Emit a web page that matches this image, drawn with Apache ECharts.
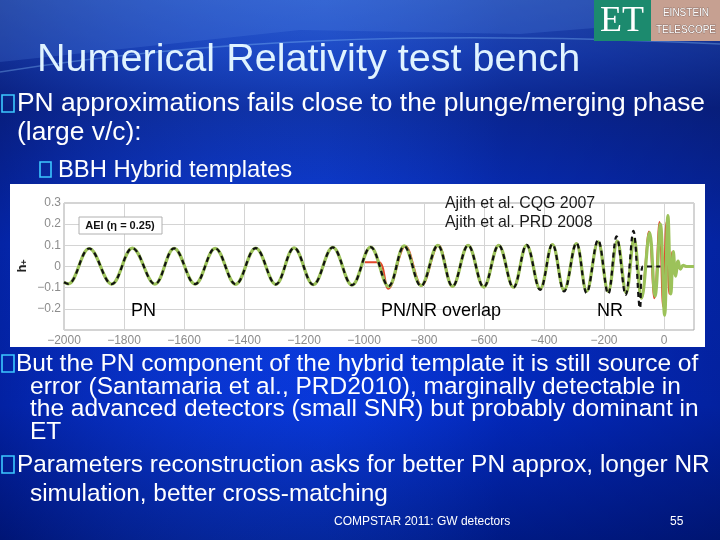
<!DOCTYPE html>
<html><head><meta charset="utf-8">
<script src="https://cdn.jsdelivr.net/npm/echarts@6/dist/echarts.min.js"></script>
<style>html,body{margin:0;padding:0;background:#0a2fc0}#c{width:720px;height:540px}</style>
</head><body><div id="c"></div>
<script>
// ---- data ----
const xTicks = [-2000,-1800,-1600,-1400,-1200,-1000,-800,-600,-400,-200,0];
const yTicks = [-0.2,-0.1,0,0.1,0.2,0.3];
// PN waveform (black dashed): extrema positions
const pnX = [-2000,-1986,-1916,-1841,-1772,-1697,-1633,-1563,-1496,-1428,-1361,-1294,-1233,-1169,-1104,-1040,-978,-918,-866,-810,-754,-705,-653,-601,-551,-502,-458,-413,-372,-333,-292,-258,-220,-186,-158,-128,-102,-80,-71,-12];
const pnY = [-0.074,-0.082,0.085,-0.083,0.087,-0.083,0.086,-0.083,0.086,-0.084,0.087,-0.084,0.088,-0.086,0.09,-0.088,0.092,-0.093,0.096,-0.092,0.1,-0.094,0.1,-0.097,0.1,-0.1,0.102,-0.11,0.106,-0.118,0.112,-0.125,0.126,-0.13,0.142,-0.134,0.168,-0.197,0,0];
// Hybrid waveform (green)
const hybX = [-2000,-1986,-1916,-1841,-1772,-1697,-1633,-1563,-1496,-1428,-1361,-1294,-1233,-1169,-1104,-1040,-978,-918,-866,-810,-754,-705,-653,-601,-551,-502,-458,-413,-372,-333,-292,-258,-220,-186,-156,-126,-100,-75,-48,-30,-12,2,13,23,31,39,47,55,64,75,100];
const hybY = [-0.074,-0.082,0.085,-0.083,0.087,-0.083,0.086,-0.083,0.086,-0.084,0.087,-0.084,0.088,-0.086,0.09,-0.088,0.092,-0.095,0.097,-0.09,0.1,-0.094,0.1,-0.097,0.1,-0.098,0.1,-0.106,0.104,-0.112,0.108,-0.116,0.116,-0.118,0.12,-0.125,0.13,-0.15,0.16,-0.14,0.2,-0.23,0.24,-0.13,0.07,-0.045,0.025,-0.012,0.005,0,0];
// NR waveform (red)
const nrX = [-997,-950,-919,-862,-808,-752,-705,-653,-601,-551,-502,-458,-413,-372,-333,-292,-258,-220,-186,-156,-126,-100,-75,-50,-32,-15,-3,8,18,27,35,43,52,62,72,100];
const nrY = [0.02,0.02,-0.105,0.097,-0.09,0.1,-0.094,0.1,-0.097,0.1,-0.098,0.1,-0.106,0.104,-0.112,0.108,-0.116,0.116,-0.118,0.12,-0.125,0.13,-0.15,0.165,-0.15,0.21,-0.19,0.21,-0.13,0.07,-0.04,0.02,-0.01,0.003,0,0];

const pairs = (xs, ys) => xs.map((x, i) => [x, ys[i]]);
const FONT = '"Liberation Sans", Arial, sans-serif';
const minus = v => String(v).replace('-', '\u2212');

const chart = echarts.init(document.getElementById('c'), null, {renderer: 'canvas'});

function lin(x, y, x2, y2, stops) {
  return {type: 'linear', x: x, y: y, x2: x2, y2: y2, colorStops: stops};
}
function txt(x, y, s, size, color) {
  return {type: 'text', x: x, y: y, z: 20,
    style: {text: s, font: size + 'px ' + FONT, fill: color, textVerticalAlign: 'middle', textAlign: 'left'}};
}
function box(x, y, w, h) {
  return {type: 'rect', z: 20, shape: {x: x, y: y, width: w, height: h},
    style: {fill: 'none', stroke: '#3cc8ff', lineWidth: 1.6}};
}

const graphics = [
  {type: 'rect', z: -20, shape: {x: 0, y: 0, width: 720, height: 540},
    style: {fill: lin(0, 0, 0, 1, [
      {offset: 0, color: '#2c5cc6'}, {offset: 0.1, color: '#1b48bf'}, {offset: 0.2, color: '#0c2e9c'},
      {offset: 0.45, color: '#0637d8'}, {offset: 0.75, color: '#0433d4'}, {offset: 1, color: '#00208f'}])}},
  {type: 'rect', z: -19, shape: {x: 0, y: 0, width: 720, height: 540},
    style: {fill: lin(0, 0, 1, 0, [
      {offset: 0, color: 'rgba(0,0,70,0.35)'}, {offset: 0.45, color: 'rgba(40,90,255,0.12)'},
      {offset: 0.7, color: 'rgba(0,0,90,0.2)'}, {offset: 1, color: 'rgba(0,0,60,0.35)'}])}},
  {type: 'polygon', z: -18, shape: {points: [[0,0],[720,0],[720,18],[520,34],[300,30],[0,62]]},
    style: {fill: 'rgba(90,140,230,0.22)'}},
  {type: 'bezierCurve', z: -18, shape: {x1: 0, y1: 72, cpx1: 200, cpy1: 40, cpx2: 420, cpy2: 30, x2: 720, y2: 44},
    style: {fill: 'none', stroke: 'rgba(140,200,255,0.35)', lineWidth: 1.5}},
  // logo
  {type: 'rect', z: 20, shape: {x: 594, y: 0, width: 57, height: 41}, style: {fill: '#1c8a6e'}},
  {type: 'text', z: 21, x: 622, y: 22, style: {text: 'ET', font: '36px "Liberation Serif", serif', fill: '#ffffff', textAlign: 'center', textVerticalAlign: 'middle'}},
  {type: 'rect', z: 20, shape: {x: 651, y: 0, width: 69, height: 41}, style: {fill: '#c6a091'}},
  {type: 'text', z: 21, x: 686, y: 13, style: {text: 'EINSTEIN', font: '10px "Liberation Sans Narrow", ' + FONT, fill: '#ffffff', stroke: '#6a5550', lineWidth: 0.6, textAlign: 'center', textVerticalAlign: 'middle'}},
  {type: 'text', z: 21, x: 686, y: 30, style: {text: 'TELESCOPE', font: '10px "Liberation Sans Narrow", ' + FONT, fill: '#ffffff', stroke: '#6a5550', lineWidth: 0.6, textAlign: 'center', textVerticalAlign: 'middle'}},
  // title
  txt(37, 60, 'Numerical Relativity test bench', 39.6, '#e0f3ff'),
  // bullets
  box(2, 95, 12, 17),
  txt(17, 104, 'PN approximations fails close to the plunge/merging phase', 26.4, '#ffffff'),
  txt(17, 133, '(large v/c):', 26.4, '#ffffff'),
  box(40, 162, 11, 15),
  txt(58, 170, 'BBH Hybrid templates', 23.8, '#ffffff'),
  // white chart panel
  {type: 'rect', z: -5, shape: {x: 10, y: 184, width: 695, height: 163}, style: {fill: '#ffffff'}},
  {type: 'text', z: 20, x: 22, y: 266, rotation: Math.PI / 2,
    style: {text: '{a|h}{b|+}', rich: {a: {font: 'bold 13px ' + FONT, fill: '#222'}, b: {font: 'bold 9px ' + FONT, fill: '#222', padding: [6, 0, 0, 0]}}, textAlign: 'center', textVerticalAlign: 'middle'}},
  {type: 'rect', z: 20, shape: {x: 79, y: 217, width: 83, height: 17}, style: {fill: '#ffffff', stroke: '#b0b0b0', lineWidth: 1}},
  {type: 'text', z: 21, x: 120, y: 226, style: {text: 'AEI (\u03b7 = 0.25)', font: 'bold 11px ' + FONT, fill: '#111', textAlign: 'center', textVerticalAlign: 'middle'}},
  txt(131, 311, 'PN', 18, '#000000'),
  txt(381, 311, 'PN/NR overlap', 18, '#000000'),
  txt(597, 311, 'NR', 18, '#000000'),
  txt(445, 204, 'Ajith et al. CQG 2007', 15.9, '#1a1a1a'),
  txt(445, 223, 'Ajith et al. PRD 2008', 15.9, '#1a1a1a'),
  // lower bullets
  box(2, 355, 12, 17),
  txt(16, 364, 'But the PN component of the hybrid template it is still source of', 24.5, '#ffffff'),
  txt(30, 387, 'error (Santamaria et al., PRD2010), marginally detectable in', 24.5, '#ffffff'),
  txt(30, 409, 'the advanced detectors (small SNR) but probably dominant in', 24.5, '#ffffff'),
  txt(30, 432, 'ET', 24.5, '#ffffff'),
  box(2, 456, 12, 17),
  txt(17, 465, 'Parameters reconstruction asks for better PN approx, longer NR', 24.4, '#ffffff'),
  txt(30, 494, 'simulation, better cross-matching', 24.4, '#ffffff'),
  // footer
  txt(334, 522, 'COMPSTAR 2011: GW detectors', 12, '#ffffff'),
  txt(670, 522, '55', 12, '#ffffff')
];

const option = {
  animation: false,
  graphic: graphics,
  grid: {left: 64, top: 203, width: 630, height: 127, show: true, borderColor: '#a8a8a8', borderWidth: 1, backgroundColor: '#ffffff', z: 1},
  xAxis: {type: 'value', min: -2000, max: 100, interval: 200, z: 2,
    axisLine: {show: false}, axisTick: {show: false},
    splitLine: {show: true, lineStyle: {color: '#d4d4d4', width: 1}},
    axisLabel: {show: true, color: '#8c8c8c', fontSize: 12, fontFamily: FONT, margin: 5, showMaxLabel: false,
      formatter: v => xTicks.indexOf(v) >= 0 ? minus(v) : ''}},
  yAxis: {type: 'value', min: -0.3, max: 0.3, interval: 0.1, z: 2,
    axisLine: {show: false}, axisTick: {show: false},
    splitLine: {show: true, lineStyle: {color: '#d4d4d4', width: 1}},
    axisLabel: {show: true, color: '#8c8c8c', fontSize: 12, fontFamily: FONT, margin: 3, showMinLabel: false,
      formatter: v => { const r = Math.round(v * 10) / 10; return yTicks.indexOf(r) >= 0 ? (r === 0 ? '0' : minus(r.toFixed(1))) : ''; }}},
  series: [
    {type: 'line', name: 'NR', data: pairs(nrX, nrY), smooth: 0.38, symbol: 'none', z: 3,
      lineStyle: {color: '#e2472b', width: 2}},
    {type: 'line', name: 'Hybrid', data: pairs(hybX, hybY), smooth: 0.38, symbol: 'none', z: 4,
      lineStyle: {color: '#9cc25a', width: 3.2}},
    {type: 'line', name: 'PN', data: pairs(pnX, pnY), smooth: 0.38, symbol: 'none', z: 5,
      lineStyle: {color: '#111111', width: 2.2, type: [5, 4]}}
  ]
};
chart.setOption(option);
</script></body></html>
